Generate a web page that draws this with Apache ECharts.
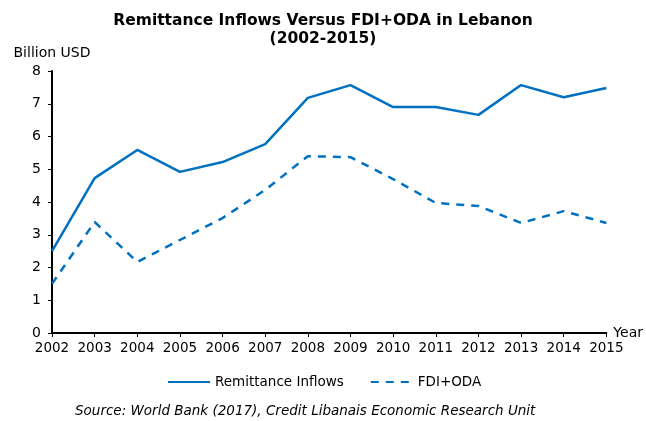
<!DOCTYPE html>
<html>
<head>
<meta charset="utf-8">
<script src="https://cdn.jsdelivr.net/npm/echarts@6/dist/echarts.min.js"></script>
<style>
  html, body { margin: 0; padding: 0; background: #fff; }
  #chart { width: 646px; height: 421px; }
</style>
</head>
<body>
<div id="chart"></div>
<script>
const years = ['2002', '2003', '2004', '2005', '2006', '2007', '2008', '2009', '2010', '2011', '2012', '2013', '2014', '2015']
const remittance = [2.5, 4.73, 5.59, 4.92, 5.22, 5.77, 7.18, 7.57, 6.9, 6.9, 6.66, 7.57, 7.2, 7.48]
const fdiOda = [1.5, 3.39, 2.17, 2.84, 3.51, 4.37, 5.4, 5.37, 4.7, 3.97, 3.88, 3.36, 3.72, 3.36]

const blue = '#0070C0'
const font = 'DejaVu Sans, Verdana, sans-serif'

const chart = echarts.init(document.getElementById('chart'))
chart.setOption({
  animation: false,
  textStyle: { fontFamily: font },
  title: {
    text: 'Remittance Inflows Versus FDI+ODA in Lebanon\n(2002-2015)',
    left: 'center',
    top: 7,
    textStyle: { fontFamily: font, fontSize: 15.5, fontWeight: 'bold', color: '#000', lineHeight: 18 }
  },
  grid: { left: 52, right: 38, top: 71, bottom: 88 },
  legend: {
    left: 162,
    top: 370,
    itemWidth: 42,
    itemHeight: 14,
    itemGap: 26,
    itemStyle: { opacity: 0 },
    textStyle: { fontFamily: font, fontSize: 13.5, color: '#000' },
    data: ['Remittance Inflows', 'FDI+ODA']
  },
  xAxis: {
    type: 'category',
    data: years,
    boundaryGap: false,
    name: 'Year',
    nameLocation: 'end',
    nameGap: 7,
    nameTextStyle: { fontFamily: font, fontSize: 14, color: '#000', verticalAlign: 'middle', padding: [0, 0, 0, 0] },
    axisLine: { lineStyle: { color: '#000', width: 2 } },
    axisTick: { show: true, alignWithLabel: true, length: 4, lineStyle: { color: '#000', width: 1 } },
    axisLabel: { fontFamily: font, fontSize: 13.5, color: '#000', margin: 8, interval: 0 },
    splitLine: { show: false }
  },
  yAxis: {
    type: 'value',
    min: 0,
    max: 8,
    interval: 1,
    name: 'Billion USD',
    nameLocation: 'end',
    nameGap: 11,
    nameTextStyle: { fontFamily: font, fontSize: 14, color: '#000', align: 'center', padding: [0, 0, 0, 0] },
    axisLine: { show: true, lineStyle: { color: '#000', width: 2 } },
    axisTick: { show: true, length: 4, lineStyle: { color: '#000', width: 1 } },
    axisLabel: { fontFamily: font, fontSize: 14, color: '#000', margin: 11 },
    splitLine: { show: false }
  },
  graphic: [
    {
      type: 'text',
      left: 75,
      top: 404,
      style: {
        text: 'Source: World Bank (2017), Credit Libanais Economic Research Unit',
        font: 'italic 13.5px ' + font,
        fill: '#000'
      }
    }
  ],
  series: [
    {
      name: 'Remittance Inflows',
      type: 'line',
      data: remittance,
      symbol: 'none',
      lineStyle: { color: blue, width: 2.5 },
      itemStyle: { color: blue }
    },
    {
      name: 'FDI+ODA',
      type: 'line',
      data: fdiOda,
      symbol: 'none',
      lineStyle: { color: blue, width: 2.5, type: [8, 7] },
      itemStyle: { color: blue }
    }
  ]
})
</script>
</body>
</html>
